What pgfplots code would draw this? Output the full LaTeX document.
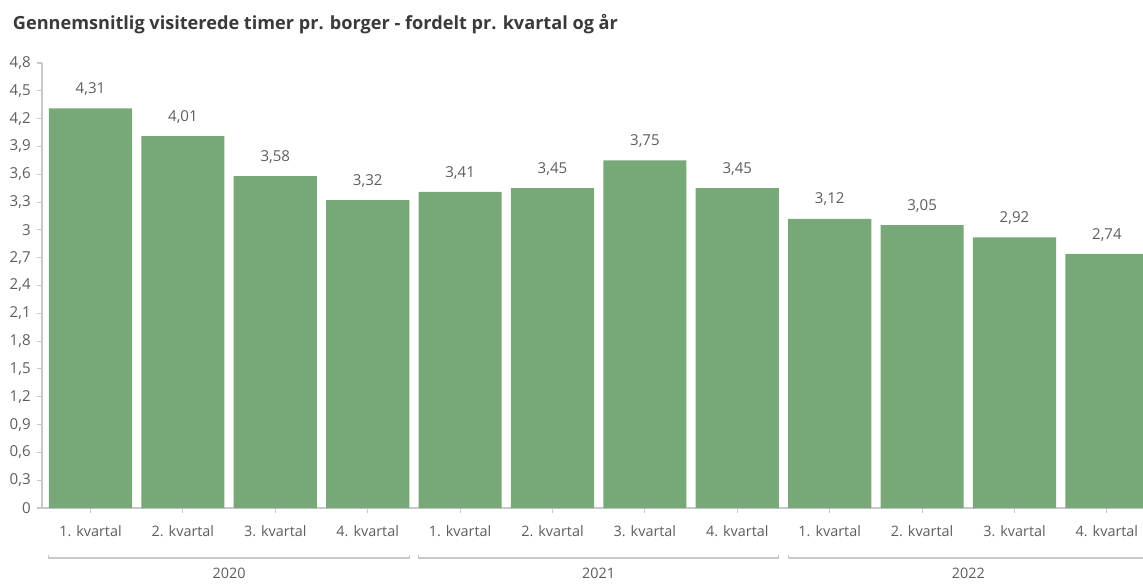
\documentclass[border=0pt]{standalone}
\usepackage{fontspec}
\setmainfont{Open Sans}
\usepackage{pgfplots}
\pgfplotsset{compat=1.18}
\definecolor{bargreen}{HTML}{78A878}
\definecolor{axisgray}{HTML}{C6C9CC}
\definecolor{labelgray}{HTML}{605E5C}
\definecolor{titlegray}{HTML}{3A3A3A}
\begin{document}
\begin{tikzpicture}
\useasboundingbox (0,0) rectangle (857.25pt,437.25pt);
\clip (0,0) rectangle (857.25pt,437.25pt);
\fill[white] (0,0) rectangle (857.25pt,437.25pt);
\node[anchor=west, font=\bfseries\fontsize{13.6}{15}\selectfont, text=titlegray, inner sep=0pt] at (9.5pt,419pt)
  {Gennemsnitlig visiterede timer pr. borger - fordelt pr. kvartal og år};
\begin{axis}[
  at={(31.5pt,56.25pt)}, anchor=south west,
  x=69.3pt, y=69.53pt,
  xmin=-0.525, xmax=11.7,
  ymin=0, ymax=4.8,
  axis lines*=left,
  axis line style={axisgray, line width=0.8pt},
  tick style={axisgray, line width=0.8pt},
  tick align=outside,
  major tick length=4pt,
  ytick={0,0.3,0.6,0.9,1.2,1.5,1.8,2.1,2.4,2.7,3,3.3,3.6,3.9,4.2,4.5,4.8},
  xtick={0,1,2,3,4,5,6,7,8,9,10,11},
  xticklabels={1. kvartal,2. kvartal,3. kvartal,4. kvartal,1. kvartal,2. kvartal,3. kvartal,4. kvartal,1. kvartal,2. kvartal,3. kvartal,4. kvartal},
  /pgf/number format/assume math mode=true,
  yticklabel style={/pgf/number format/fixed, /pgf/number format/use comma, /pgf/number format/precision=1, xshift=-1pt},
  yticklabel style={font=\fontsize{11.3}{13}\selectfont, text=labelgray},
  xticklabel style={font=\fontsize{10.8}{13}\selectfont, text=labelgray, yshift=-5.5pt},
  ybar, bar width=0.9,
  nodes near coords,
  nodes near coords style={/pgf/number format/fixed, /pgf/number format/use comma, /pgf/number format/precision=2, /pgf/number format/fixed zerofill},
  every node near coord/.append style={font=\fontsize{11.3}{13}\selectfont, text=labelgray, anchor=center, yshift=14.5pt},
  clip=false,
]
\addplot[fill=bargreen, draw=none] coordinates {
(0,4.31) (1,4.01) (2,3.58) (3,3.32) (4,3.41) (5,3.45) (6,3.75) (7,3.45) (8,3.12) (9,3.05) (10,2.92) (11,2.74)};
\foreach \a/\b/\yr in {-0.45/3.45/2020, 3.55/7.45/2021, 7.55/11.45/2022} {
  \edef\tmp{\noexpand\draw[axisgray, line width=0.8pt] ([yshift=-35pt]axis cs:\a,0) -- ([yshift=-37.5pt]axis cs:\a,0) -- ([yshift=-37.5pt]axis cs:\b,0) -- ([yshift=-35pt]axis cs:\b,0);}
  \tmp
}
\node[font=\fontsize{10.8}{13}\selectfont, text=labelgray] at ([yshift=-49.3pt]axis cs:1.5,0) {2020};
\node[font=\fontsize{10.8}{13}\selectfont, text=labelgray] at ([yshift=-49.3pt]axis cs:5.5,0) {2021};
\node[font=\fontsize{10.8}{13}\selectfont, text=labelgray] at ([yshift=-49.3pt]axis cs:9.5,0) {2022};
\end{axis}
\end{tikzpicture}
\end{document}
